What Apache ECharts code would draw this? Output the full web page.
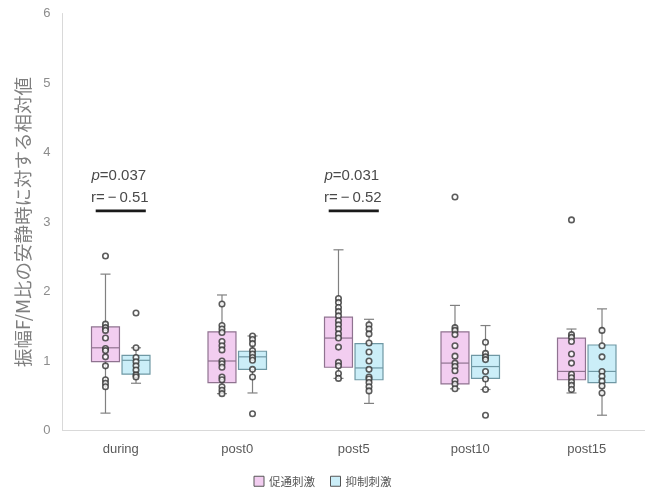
<!DOCTYPE html>
<html><head><meta charset="utf-8">
<script src="https://cdn.jsdelivr.net/npm/echarts@6/dist/echarts.min.js"></script>
<style>html,body{margin:0;padding:0;background:#fff}#c{width:645px;height:493px}</style>
</head><body><div id="c"></div>
<script>
const categories = ['during', 'post0', 'post5', 'post10', 'post15'];
const yTicks = [0, 1, 2, 3, 4, 5, 6];
// [low whisker, Q1, median, Q3, high whisker]
const facilBox = [
  [0.25, 0.99, 1.19, 1.49, 2.25],
  [0.53, 0.69, 1.00, 1.42, 1.95],
  [0.75, 0.91, 1.33, 1.63, 2.60],
  [0.60, 0.67, 0.97, 1.42, 1.80],
  [0.54, 0.73, 0.85, 1.33, 1.46]
];
const inhibBox = [
  [0.68, 0.81, 1.01, 1.08, 1.19],
  [0.54, 0.88, 1.06, 1.14, 1.36],
  [0.39, 0.73, 0.90, 1.25, 1.60],
  [0.59, 0.75, 0.92, 1.08, 1.51],
  [0.22, 0.69, 0.85, 1.23, 1.75]
];
const facilPoints = [
  [2.51, 1.53, 1.48, 1.44, 1.33, 1.18, 1.15, 1.06, 0.93, 0.73, 0.68, 0.63],
  [1.82, 1.51, 1.46, 1.41, 1.28, 1.22, 1.16, 1.00, 0.96, 0.91, 0.77, 0.73, 0.63, 0.58, 0.53],
  [1.90, 1.84, 1.77, 1.71, 1.65, 1.58, 1.52, 1.46, 1.39, 1.33, 1.20, 0.98, 0.93, 0.82, 0.75],
  [3.36, 1.48, 1.44, 1.38, 1.22, 1.07, 0.97, 0.92, 0.86, 0.72, 0.67, 0.60],
  [3.03, 1.38, 1.34, 1.28, 1.10, 0.97, 0.81, 0.76, 0.70, 0.65, 0.59]
];
const inhibPoints = [
  [1.69, 1.19, 1.05, 0.99, 0.93, 0.87, 0.80, 0.77],
  [1.36, 1.31, 1.25, 1.15, 1.10, 1.05, 1.01, 0.88, 0.77, 0.24],
  [1.52, 1.46, 1.39, 1.26, 1.13, 1.00, 0.88, 0.77, 0.74, 0.69, 0.63, 0.57],
  [1.27, 1.11, 1.06, 1.02, 0.85, 0.74, 0.59, 0.22],
  [1.44, 1.22, 1.06, 0.85, 0.78, 0.71, 0.64, 0.54]
];
const annotCats = [0, 2];
const annotLevel = [3.16, 3.16];
const annotP = ['0.037', '0.031'];
const annotR = ['\u2009\u2212\u20090.51', '\u2009\u2212\u20090.52'];
const seriesNames = ['促通刺激', '抑制刺激'];
const yTitle = '振幅F/M比の安静時に対する相対値';

const OFF = 0.131;
const PINK = '#f2cdf0', PINK_S = '#8f7390';
const BLUE = '#cbeef8', BLUE_S = '#6f98a4';

function makeBox(name, stats, offset, fill, stroke) {
  return {
    type: 'custom', name: name, xAxisIndex: 1, yAxisIndex: 0, z: 2,
    itemStyle: { color: fill, borderColor: stroke },
    data: stats.map((s, i) => [i].concat(s)),
    encode: { x: 0, y: [1, 2, 3, 4, 5] },
    renderItem: function (params, api) {
      const x = api.value(0) + offset;
      const w = api.size([1, 0])[0] * 0.24;
      const capW = w * 0.36;
      const pl = api.coord([x, api.value(1)]);
      const p1 = api.coord([x, api.value(2)]);
      const pm = api.coord([x, api.value(3)]);
      const p3 = api.coord([x, api.value(4)]);
      const ph = api.coord([x, api.value(5)]);
      const cx = pl[0];
      const ws = { stroke: '#808080', lineWidth: 1.2 };
      return { type: 'group', children: [
        { type: 'line', shape: { x1: cx, y1: ph[1], x2: cx, y2: p3[1] }, style: ws },
        { type: 'line', shape: { x1: cx, y1: p1[1], x2: cx, y2: pl[1] }, style: ws },
        { type: 'line', shape: { x1: cx - capW / 2, y1: ph[1], x2: cx + capW / 2, y2: ph[1] }, style: ws },
        { type: 'line', shape: { x1: cx - capW / 2, y1: pl[1], x2: cx + capW / 2, y2: pl[1] }, style: ws },
        { type: 'rect', shape: { x: cx - w / 2, y: p3[1], width: w, height: p1[1] - p3[1] }, style: { fill: fill, stroke: stroke, lineWidth: 1.2 } },
        { type: 'line', shape: { x1: cx - w / 2, y1: pm[1], x2: cx + w / 2, y2: pm[1] }, style: { stroke: stroke, lineWidth: 1.2 } }
      ] };
    }
  };
}
function makePoints(points, offset) {
  const d = [];
  points.forEach((arr, i) => arr.forEach(v => d.push([i + offset, v])));
  return {
    type: 'scatter', xAxisIndex: 1, yAxisIndex: 0, z: 4, silent: true,
    symbol: 'circle', symbolSize: 5.5,
    itemStyle: { color: '#ffffff', borderColor: '#333333', borderWidth: 1.6 },
    data: d
  };
}
const annotSeries = {
  type: 'custom', xAxisIndex: 1, yAxisIndex: 0, z: 5, silent: true,
  data: annotCats.map((c, i) => [c, annotLevel[i], i]),
  encode: { x: 0, y: 1 },
  renderItem: function (params, api) {
    const i = api.value(2);
    const c = api.coord([api.value(0), api.value(1)]);
    const hw = api.size([1, 0])[0] * 0.215;
    const ts = { fontSize: 15, fontFamily: 'Liberation Sans', fill: '#4a4a4a', align: 'center', verticalAlign: 'middle' };
    return { type: 'group', children: [
      { type: 'line', shape: { x1: c[0] - hw, y1: c[1], x2: c[0] + hw, y2: c[1] }, style: { stroke: '#1a1a1a', lineWidth: 2.6 } },
      { type: 'text', x: c[0] - 2, y: c[1] - 35, style: Object.assign({}, ts, { text: '{i|p}=' + annotP[i], rich: { i: { fontStyle: 'italic', fontSize: 15, fontFamily: 'Liberation Sans', fill: '#4a4a4a' } } }) },
      { type: 'text', x: c[0] - 1, y: c[1] - 13.5, style: Object.assign({}, ts, { text: 'r=' + annotR[i] }) }
    ] };
  }
};

const chart = echarts.init(document.getElementById('c'));
chart.setOption({
  animation: false,
  backgroundColor: '#ffffff',
  grid: { left: 62.5, right: -9, top: 13.5, bottom: 62.5, containLabel: false },
  legend: {
    bottom: 1, left: 'center', icon: 'rect', itemWidth: 10, itemHeight: 10, itemGap: 15,
    textStyle: { color: '#595959', fontSize: 11.5, fontFamily: 'Noto Sans CJK JP' },
    data: [
      { name: seriesNames[0], itemStyle: { color: PINK, borderColor: '#555', borderWidth: 1 } },
      { name: seriesNames[1], itemStyle: { color: BLUE, borderColor: '#555', borderWidth: 1 } }
    ]
  },
  xAxis: [
    { type: 'category', data: categories, boundaryGap: true,
      axisLine: { show: true, lineStyle: { color: '#d9d9d9' } }, axisTick: { show: false },
      axisLabel: { color: '#595959', fontSize: 13, margin: 12, fontFamily: 'Liberation Sans' } },
    { type: 'value', min: -0.5, max: 4.5, show: false }
  ],
  yAxis: [{
    type: 'value', min: yTicks[0], max: yTicks[yTicks.length - 1], interval: 1,
    name: yTitle, nameLocation: 'middle', nameRotate: 90, nameGap: 24,
    nameTextStyle: { color: '#7f7f7f', fontSize: 18.5, fontFamily: 'Noto Sans CJK JP' },
    axisLine: { show: true, onZero: false, lineStyle: { color: '#d9d9d9' } }, axisTick: { show: false },
    splitLine: { show: false },
    axisLabel: { color: '#8c8c8c', fontSize: 13, margin: 12, fontFamily: 'Liberation Sans' }
  }],
  series: [
    makeBox(seriesNames[0], facilBox, -OFF, PINK, PINK_S),
    makeBox(seriesNames[1], inhibBox, OFF, BLUE, BLUE_S),
    makePoints(facilPoints, -OFF),
    makePoints(inhibPoints, OFF),
    annotSeries
  ]
});
</script></body></html>
